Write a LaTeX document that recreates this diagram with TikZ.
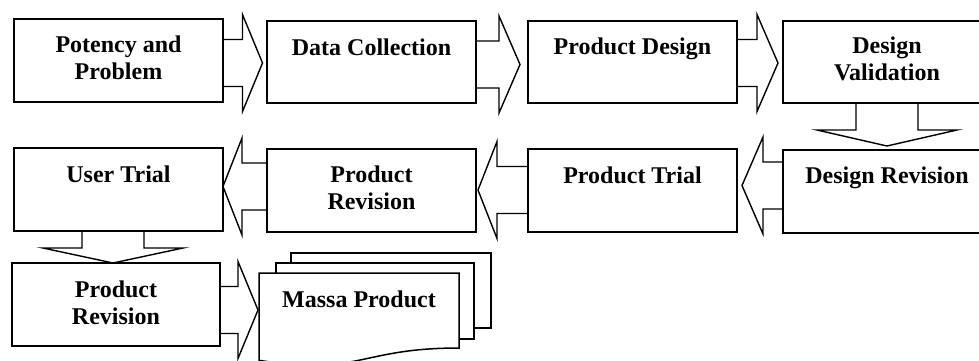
\documentclass[tikz,border=0pt]{standalone}
\usepackage{fontspec}
\setmainfont{Liberation Serif}
\usetikzlibrary{calc}

% two centred lines whose baseline is the first line's baseline
\newcommand\twolines[2]{\begin{tabular}[t]{@{}c@{}}#1\\#2\end{tabular}}

% block arrows, drawn out of the side of a named box
% #1 box, #2 centre line, #3 shaft length, #4 head length
\newcommand\arrowright[4]{%
  \draw[blk] (#1.east |- 0,#2) ++(0,-23.5) -- ++(#3,0) -- ++(0,-25)
    -- ++(#4,48.5) -- ++(-#4,48.5) -- ++(0,-25) -- ++(-#3,0);}
\newcommand\arrowleft[4]{%
  \draw[blk] (#1.west |- 0,#2) ++(0,-23.5) -- ++(-#3,0) -- ++(0,-25)
    -- ++(-#4,48.5) -- ++(#4,48.5) -- ++(0,-25) -- ++(#3,0);}
\newcommand\arrowdown[4]{%
  \draw[blk] (#1.south -| #2,0) ++(-31,0) -- ++(0,#3) -- ++(-39,0)
    -- ++(70,#4) -- ++(70,-#4) -- ++(-39,0) -- ++(0,-#3);}

\begin{document}
\begin{tikzpicture}[x=1pt,y=-1pt,
  line join=miter,
  box/.style={draw, line width=1.5pt, rectangle, anchor=north west,
    inner sep=0pt, outer sep=0pt, fill=white},
  blk/.style={draw, line width=1.4pt},
  doc/.style={draw, line width=1.5pt, fill=white},
  lbl/.style={anchor=base, inner sep=0pt,
    font=\fontsize{24}{27}\selectfont\bfseries}]

\useasboundingbox (0,0) rectangle (979,360);
\fill[white] (0,0) rectangle (979,360);
\clip (0,0) rectangle (979,360);

% first row
\node[box, minimum width=209pt, minimum height=83pt] (b1) at (14,19) {};
\node[box, minimum width=209pt, minimum height=82pt] (b2) at (267,21) {};
\node[box, minimum width=209pt, minimum height=82pt] (b3) at (528,21) {};
\node[box, minimum width=208pt, minimum height=82pt] (b4) at (783,21) {};

% second row
\node[box, minimum width=209pt, minimum height=83pt] (b5) at (14,148) {};
\node[box, minimum width=209pt, minimum height=83pt] (b6) at (267,149) {};
\node[box, minimum width=209pt, minimum height=83pt] (b7) at (528,149) {};
\node[box, minimum width=208pt, minimum height=83pt] (b8) at (783,150) {};

% third row
\node[box, minimum width=208pt, minimum height=83pt] (b9) at (12,263) {};

% stacked documents
\draw[doc] (291,253) rectangle (491,328);
\draw[doc] (276,263) rectangle (474,339);
\draw[doc] (259,273) -- (459,273) -- (459,348)
  .. controls (359,348) and (359,376.5) .. (259,360.3) -- cycle;
\coordinate (docs) at (359,273);

% labels
\node[lbl] (t1) at (118.5,52) {\twolines{Potency and}{Problem}};
\node[lbl] (t2) at (371.5,55) {Data Collection};
\node[lbl] (t3) at (632.5,54) {Product Design};
\node[lbl] (t4) at (887,53) {\twolines{Design}{Validation}};
\node[lbl] (t5) at (118.5,182) {User Trial};
\node[lbl] (t6) at (371.5,182) {\twolines{Product}{Revision}};
\node[lbl] (t7) at (632.5,183) {Product Trial};
\node[lbl] (t8) at (887,183) {Design Revision};
\node[lbl] (t9) at (116,297) {\twolines{Product}{Revision}};
\node[lbl] (t10) at (359,307) {Massa Product};

% flow
\arrowright{b1}{63}{19.5}{20}
\arrowright{b2}{64.5}{23}{21}
\arrowright{b3}{63}{20}{21}
\arrowdown{b4}{887}{27}{16}
\arrowleft{b8}{185.5}{20}{21}
\arrowleft{b7}{190}{31}{19}
\arrowleft{b6}{186.5}{25}{19}
\arrowdown{b5}{113}{17}{15}
\arrowright{b9}{310}{18}{20}
\end{tikzpicture}
\end{document}
